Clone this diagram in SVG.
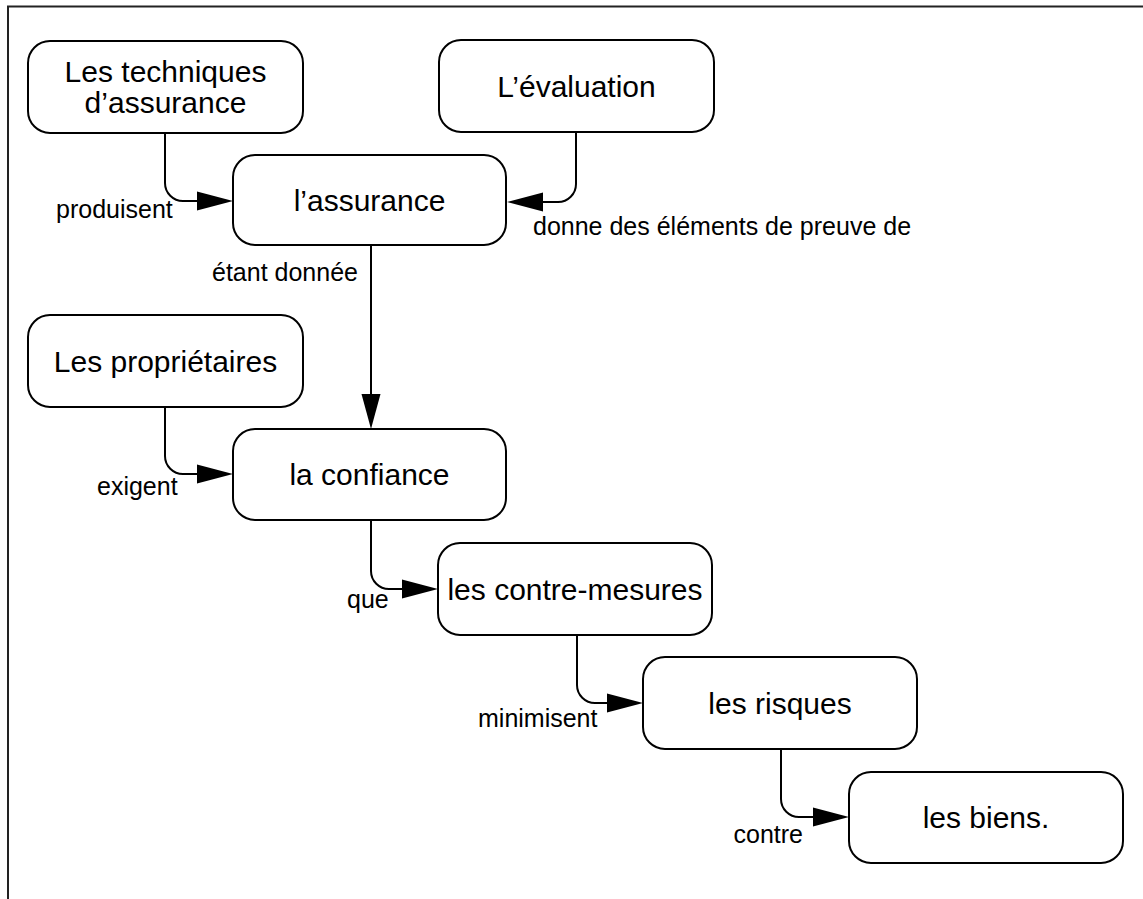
<svg xmlns="http://www.w3.org/2000/svg" width="1143" height="899" viewBox="0 0 1143 899">
  <style>
    .node rect { fill: #fff; stroke: #000; stroke-width: 2; }
    .node text { font-family: "Liberation Sans", Arial, sans-serif; font-size: 30px; fill: #000; text-anchor: middle; }
    .edge path { fill: none; stroke: #000; stroke-width: 2; }
    .edge .head { fill: #000; stroke: none; }
    .lbl { font-family: "Liberation Sans", Arial, sans-serif; font-size: 25px; fill: #000; }
    .frame { fill: none; stroke: #222; stroke-width: 2; }
  </style>
  <rect width="1143" height="899" fill="#fff"/>
  <!-- page frame (top and left edges) -->
  <path class="frame" d="M8 899 V6.5 H1143"/>

  <g id="n-techniques" class="node">
    <rect x="28" y="41" width="275" height="92" rx="22"/>
    <text x="165.5" y="82">Les techniques</text>
    <text x="165.5" y="113">d’assurance</text>
  </g>
  <g id="n-evaluation" class="node">
    <rect x="439" y="40" width="275" height="92" rx="22"/>
    <text x="576.5" y="96.5">L’évaluation</text>
  </g>
  <g id="n-assurance" class="node">
    <rect x="233" y="155" width="273" height="90" rx="22"/>
    <text x="369.5" y="210.5">l’assurance</text>
  </g>
  <g id="n-proprietaires" class="node">
    <rect x="28" y="315" width="275" height="92" rx="22"/>
    <text x="165.5" y="371.5">Les propriétaires</text>
  </g>
  <g id="n-confiance" class="node">
    <rect x="233" y="429" width="273" height="91" rx="22"/>
    <text x="369.5" y="485">la confiance</text>
  </g>
  <g id="n-contremesures" class="node">
    <rect x="438" y="543" width="274" height="92" rx="22"/>
    <text x="575" y="599.5">les contre-mesures</text>
  </g>
  <g id="n-risques" class="node">
    <rect x="643" y="657" width="274" height="92" rx="22"/>
    <text x="780" y="713.5">les risques</text>
  </g>
  <g id="n-biens" class="node">
    <rect x="849" y="772" width="274" height="91" rx="22"/>
    <text x="986" y="828">les biens.</text>
  </g>

  <g id="connectors" class="edge">
    <!-- produisent -->
    <path d="M165 133 V183 A18 18 0 0 0 183 201 H198"/>
    <polygon class="head" points="197,191.5 233,201 197,210.5"/>
    <!-- donne des éléments de preuve de -->
    <path d="M576 132 V184 A18 18 0 0 1 558 202 H543"/>
    <polygon class="head" points="543,192.5 507,202 543,211.5"/>
    <!-- étant donnée -->
    <path d="M371 245 V395"/>
    <polygon class="head" points="361.5,394 371,429 380.5,394"/>
    <!-- exigent -->
    <path d="M165 407 V456 A18 18 0 0 0 183 474 H198"/>
    <polygon class="head" points="197,464.5 233,474 197,483.5"/>
    <!-- que -->
    <path d="M371 520 V571 A18 18 0 0 0 389 589 H403"/>
    <polygon class="head" points="402,579.5 438,589 402,598.5"/>
    <!-- minimisent -->
    <path d="M577 635 V685 A18 18 0 0 0 595 703 H608"/>
    <polygon class="head" points="607,693.5 643,703 607,712.5"/>
    <!-- contre -->
    <path d="M781 749 V799 A18 18 0 0 0 799 817 H814"/>
    <polygon class="head" points="813,807.5 849,817 813,826.5"/>
  </g>

  <g id="labels">
    <text class="lbl" x="56" y="218">produisent</text>
    <text class="lbl" x="533" y="235">donne des éléments de preuve de</text>
    <text class="lbl" x="212" y="281">étant donnée</text>
    <text class="lbl" x="97" y="495">exigent</text>
    <text class="lbl" x="347" y="608">que</text>
    <text class="lbl" x="478" y="727">minimisent</text>
    <text class="lbl" x="803" y="843" text-anchor="end">contre</text>
  </g>
</svg>
